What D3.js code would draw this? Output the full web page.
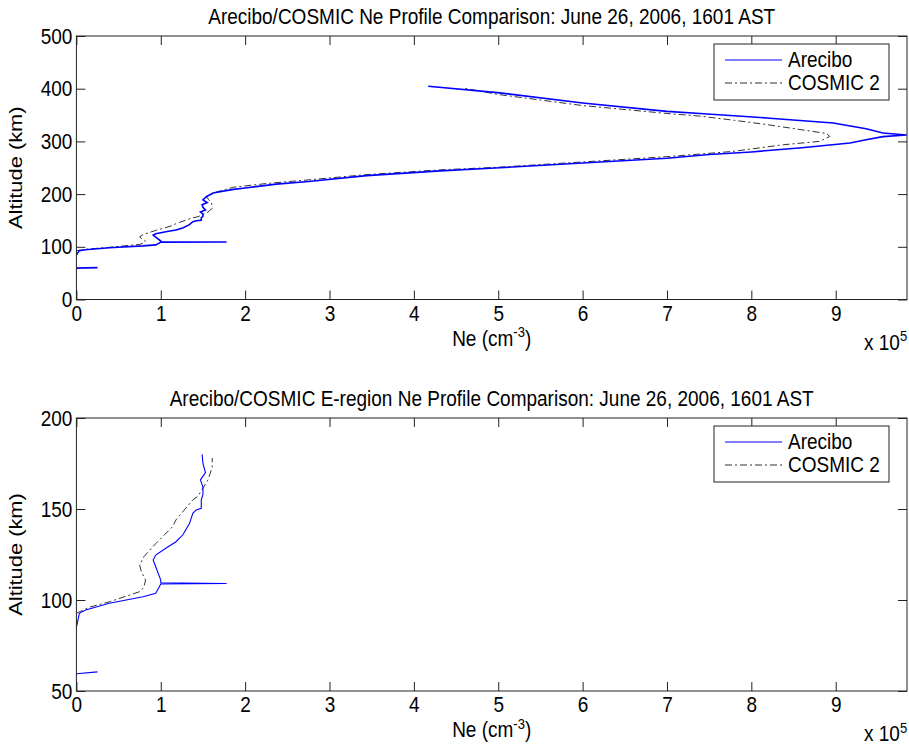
<!DOCTYPE html>
<html>
<head>
<meta charset="utf-8">
<script src="https://cdn.jsdelivr.net/npm/d3@7"></script>
<style>
body { margin: 0; background: #fff; }
text { font-family: "Liberation Sans", Arial, Helvetica, sans-serif; fill: #000; }
</style>
</head>
<body>
<svg id="fig" width="909" height="753"></svg>
<script>
// Ne in units of 1e5 cm^-3, altitude in km (null = gap in the Arecibo record)
var areciboNe = [0, 0.25, null, 0, 0.035, 0.11, 0.39, 0.79, 0.94, 0.98, 1.0, 1.78, 1.0, 1.0, 0.94, 0.91, 0.94, 1.06, 1.18, 1.26,
    1.34, 1.38, 1.42, 1.48, 1.48, 1.50, 1.50, 1.47, 1.53, 1.50, 1.49, 1.55, 1.50, 1.54, 1.62, 1.86, 2.0, 2.37, 2.75, 3.44,
    4.31, 5.02, 6.0, 7.0, 7.5, 8.0, 8.6, 9.17, 9.36, 9.56, 9.84, 9.56, 9.36, 8.97, 8.18, 7.39, 7.0, 6.0, 5.02, 4.17];
var areciboAlt = [59.5, 60.5, null, 85, 92.7, 94.5, 98.2, 101.8, 103.7, 107, 108.8, 109.1, 109.5, 111, 118.3, 122, 124.7, 128.4, 132, 135.7,
    142, 147.6, 149.5, 150.4, 155, 158, 162, 166, 170, 175, 180, 184, 189, 195, 202, 209, 211.5, 219, 224, 235,
    244, 250, 259, 268, 275, 280, 288, 297, 303, 309, 312, 316, 324, 335, 344.5, 353, 357, 373, 392, 404.6];

var cosmicNe = [0, 0.15, 0.39, 0.75, 0.80, 0.82, 0.77, 0.75, 0.80, 0.94, 1.14, 1.18, 1.38, 1.44, 1.56, 1.61, 1.61, 1.60, 1.57, 1.54,
    1.66, 1.86, 2.25, 2.75, 3.44, 4.31, 5.0, 6.0, 7.0, 7.78, 8.38, 8.81, 8.93, 8.89, 8.6, 8.18, 7.8, 7.39, 7.0, 6.0,
    5.0, 4.58];
var cosmicAlt = [92.7, 96, 99, 104.6, 107, 111, 115.5, 119.2, 123.8, 131, 140.3, 144, 155, 157, 166, 173, 178, 183, 189, 195.4,
    204, 213, 220, 227, 237, 246, 251, 261, 271, 281, 293.7, 300, 309.5, 315, 322, 332, 340, 348, 353, 368,
    389, 401.5];

var eRegionTop = 181;   // the E-region panel only shows the profiles up to here
var xMax = 9.845;
var xTicks = [0, 1, 2, 3, 4, 5, 6, 7, 8, 9];
var topYTicks = [0, 100, 200, 300, 400, 500];
var botYTicks = [50, 100, 150, 200];
var seriesNames = ["Arecibo", "COSMIC 2"];

var arecibo = d3.zip(areciboNe, areciboAlt);
var cosmic = d3.zip(cosmicNe, cosmicAlt);
var inE = function(d) { return d[1] === null || d[1] <= eRegionTop; };

var FS = 19, VS = 1.15;  // font size and the vertical stretch of the glyphs
var dashDot = "7,3,2,3";

var svg = d3.select("#fig");
svg.append("rect").attr("width", 909).attr("height", 753).attr("fill", "#fff");

var panels = [
    {id: "p1", top: 36, bottom: 299.5, ydom: [0, 500], yticks: topYTicks,
     a: arecibo, c: cosmic, lw: 1.6,
     title: "Arecibo/COSMIC Ne Profile Comparison: June 26, 2006, 1601 AST"},
    {id: "p2", top: 418, bottom: 691, ydom: [50, 200], yticks: botYTicks,
     a: arecibo.filter(inE), c: cosmic.filter(inE), lw: 1.1,
     title: "Arecibo/COSMIC E-region Ne Profile Comparison: June 26, 2006, 1601 AST"}
];

var left = 76.4, right = 907;

function label(parent, x, y, anchor) {
    return parent.append("text")
        .attr("transform", "translate(" + x + "," + y + ") scale(1," + VS + ")")
        .attr("text-anchor", anchor || "start")
        .style("font-size", FS + "px");
}

panels.forEach(function(p) {
    var x = d3.scaleLinear().domain([0, xMax]).range([left, right]);
    var y = d3.scaleLinear().domain(p.ydom).range([p.bottom, p.top]);
    var g = svg.append("g");

    g.append("clipPath").attr("id", "clip-" + p.id)
        .append("rect")
        .attr("x", left).attr("y", p.top)
        .attr("width", right - left).attr("height", p.bottom - p.top);

    var line = d3.line()
        .defined(function(d) { return d[0] !== null && d[1] !== null; })
        .x(function(d) { return x(d[0]); })
        .y(function(d) { return y(d[1]); });

    var plot = g.append("g").attr("clip-path", "url(#clip-" + p.id + ")");
    plot.append("path").datum(p.c)
        .attr("d", line)
        .attr("fill", "none")
        .attr("stroke", "#333")
        .attr("stroke-width", 1)
        .attr("stroke-dasharray", dashDot);
    plot.append("path").datum(p.a)
        .attr("d", line)
        .attr("fill", "none")
        .attr("stroke", "#0000ff")
        .attr("stroke-width", p.lw);

    // axes with inward ticks, mirrored on the box
    var tick = 9;
    g.append("g").attr("transform", "translate(0," + p.bottom + ")")
        .call(d3.axisBottom(x).tickValues(xTicks).tickSizeInner(-tick).tickSizeOuter(0).tickPadding(5)
              .tickFormat(d3.format("d")))
        .call(styleAxis);
    g.append("g").attr("transform", "translate(0," + p.top + ")")
        .call(d3.axisTop(x).tickValues(xTicks).tickSizeInner(-tick).tickSizeOuter(0).tickFormat(""))
        .call(styleAxis);
    g.append("g").attr("transform", "translate(" + left + ",0)")
        .call(d3.axisLeft(y).tickValues(p.yticks).tickSizeInner(-tick).tickSizeOuter(0).tickPadding(4)
              .tickFormat(d3.format("d")))
        .call(styleAxis);
    g.append("g").attr("transform", "translate(" + right + ",0)")
        .call(d3.axisRight(y).tickValues(p.yticks).tickSizeInner(-tick).tickSizeOuter(0).tickFormat(""))
        .call(styleAxis);

    g.append("rect")
        .attr("x", left).attr("y", p.top)
        .attr("width", right - left).attr("height", p.bottom - p.top)
        .attr("fill", "none").attr("stroke", "#222").attr("stroke-width", 1);

    label(g, (left + right) / 2, p.top - 12, "middle").text(p.title);

    g.append("text")
        .attr("transform", "translate(22," + (p.top + p.bottom) / 2 + ") rotate(-90) scale(" + VS + ",1)")
        .attr("text-anchor", "middle").style("font-size", FS + "px")
        .text("Altitude (km)");

    var xl = label(g, (left + right) / 2, p.bottom + 46, "middle");
    xl.append("tspan").text("Ne (cm");
    xl.append("tspan").attr("dy", -7).style("font-size", "13px").text("-3");
    xl.append("tspan").attr("dy", 7).text(")");

    var ex = label(g, 864, p.bottom + 50);
    ex.append("tspan").text("x 10");
    ex.append("tspan").attr("dy", -7).style("font-size", "13px").text("5");

    // legend
    var lx = 714, ly = p.top + 8, lw = 175, lh = 56;
    var lg = g.append("g");
    lg.append("rect").attr("x", lx).attr("y", ly).attr("width", lw).attr("height", lh)
        .attr("fill", "#fff").attr("stroke", "#222").attr("stroke-width", 1);
    seriesNames.forEach(function(name, i) {
        var yy = ly + 16 + i * 23;
        lg.append("line").attr("x1", lx + 11).attr("x2", lx + 68).attr("y1", yy).attr("y2", yy)
            .attr("stroke", i === 0 ? "#0000ff" : "#333")
            .attr("stroke-width", 1)
            .attr("stroke-dasharray", i === 0 ? null : dashDot);
        label(lg, lx + 74, yy + 7).text(name);
    });
});

function styleAxis(sel) {
    sel.select(".domain").remove();
    sel.selectAll(".tick line").attr("stroke", "#222");
    sel.selectAll(".tick text")
        .style("font-size", FS + "px")
        .attr("fill", "#000")
        .attr("transform", "scale(1," + VS + ")");
}
</script>
</body>
</html>
